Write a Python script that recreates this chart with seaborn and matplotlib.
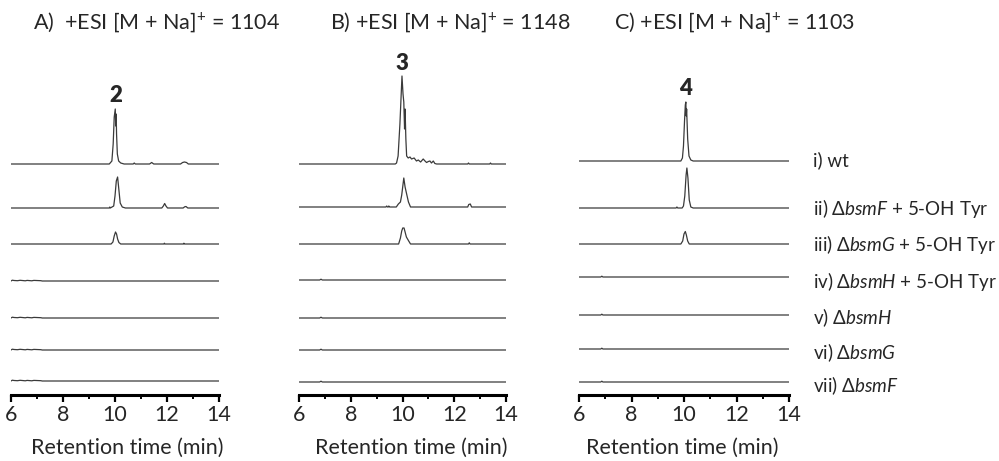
import numpy as np
import pandas as pd
import matplotlib
matplotlib.use("Agg")
import matplotlib.pyplot as plt
from matplotlib.ticker import MultipleLocator
import seaborn as sns

# ---------------- data (retention time in min, signal in arbitrary units) ----------------
titles = ["A)  +ESI [M + Na]$^{+}$ = 1104", "B) +ESI [M + Na]$^{+}$ = 1148", "C) +ESI [M + Na]$^{+}$ = 1103"]
compounds = ["2", "3", "4"]
strains = ["i) wt",
           r"ii) Δ$\it{bsmF}$ + 5-OH Tyr",
           r"iii) Δ$\it{bsmG}$ + 5-OH Tyr",
           r"iv) Δ$\it{bsmH}$ + 5-OH Tyr",
           r"v) Δ$\it{bsmH}$",
           r"vi) Δ$\it{bsmG}$",
           r"vii) Δ$\it{bsmF}$"]
x_ticks = [6, 8, 10, 12, 14]

# Panel A traces (time, signal)
A_i_t = [6.0, 9.78, 9.88, 9.93, 9.97, 10.01, 10.03, 10.045, 10.06, 10.09, 10.14, 10.22, 10.35, 10.70, 10.74, 10.78, 11.33, 11.41, 11.49, 12.52, 12.60, 12.67, 12.75, 12.82, 14.0]
A_i_y = [0, 0, 3, 20, 47, 55, 38, 50, 30, 10, 3, 1, 0, 0, 1, 0, 0, 1.5, 0, 0, 1.5, 2, 1.5, 0, 0]
A_ii_t = [6.0, 9.78, 9.80, 9.82, 9.95, 10.00, 10.05, 10.10, 10.15, 10.20, 10.28, 10.40, 11.80, 11.86, 11.91, 11.96, 12.02, 12.62, 12.68, 12.73, 12.80, 14.0]
A_ii_y = [0, 0, 1, 0, 2, 12, 27, 31, 18, 5, 1, 0, 0, 2, 4.5, 2, 0, 0, 1.2, 1.5, 0, 0]
A_iii_t = [6.0, 9.85, 9.92, 9.97, 10.02, 10.06, 10.10, 10.15, 10.22, 11.88, 11.90, 11.92, 12.63, 12.65, 12.67, 14.0]
A_iii_y = [0, 0, 2, 8, 12, 10, 5, 1.5, 0, 0, 0.8, 0, 0, 0.8, 0, 0]
A_low_t = [6.0, 6.05, 6.12, 6.25, 6.35, 6.55, 6.62, 6.80, 6.88, 7.15, 7.2, 14.0]
A_low_y = [0, 0.8, 0.5, 0.3, 0.7, 0.2, 0.6, 0.2, 0.6, 0.3, 0, 0]

# Panel B traces
B_i_t = [6.0, 9.72, 9.77, 9.83, 9.90, 9.98, 10.02, 10.05, 10.08, 10.10, 10.13, 10.16, 10.22, 10.29, 10.35, 10.45, 10.54, 10.61, 10.70, 10.80, 10.87, 10.93, 11.00, 11.06, 11.12, 11.19, 11.25, 11.32, 12.52, 12.55, 12.58, 13.37, 13.40, 13.43, 14.0]
B_i_y = [0, 0, 1, 8, 40, 88, 70, 62, 35, 55, 25, 8, 6, 7, 5, 6, 3, 4, 2, 5, 3, 1.5, 2.5, 3, 1, 3, 0.5, 0, 0, 1, 0, 0, 1, 0, 0]
B_ii_t = [6.0, 9.36, 9.39, 9.42, 9.45, 9.47, 9.50, 9.76, 9.84, 9.92, 9.97, 10.05, 10.10, 10.16, 10.23, 10.31, 12.52, 12.56, 12.62, 12.67, 14.0]
B_ii_y = [0, 0, 1, 0, 0, 1, 0, 0, 3, 5, 12, 29, 20, 13, 5, 0, 0, 2.5, 3, 0, 0]
B_iii_t = [6.0, 9.85, 9.92, 9.97, 10.01, 10.06, 10.10, 10.15, 10.24, 10.31, 12.55, 12.58, 12.61, 14.0]
B_iii_y = [0, 0, 6, 13, 16, 16, 12, 7, 3, 0, 0, 1.2, 0, 0]
B_low_t = [6.0, 6.80, 6.85, 6.90, 14.0]
B_low_y = [0, 0, 0.8, 0, 0]

# Panel C traces
C_i_t = [6.0, 9.88, 9.94, 9.98, 10.02, 10.05, 10.07, 10.085, 10.10, 10.14, 10.19, 10.26, 10.35, 14.0]
C_i_y = [0, 0, 3, 15, 40, 56, 59, 45, 52, 22, 5, 1, 0, 0]
C_ii_t = [6.0, 9.70, 9.73, 9.76, 9.93, 9.98, 10.03, 10.08, 10.11, 10.15, 10.20, 10.26, 10.35, 14.0]
C_ii_y = [0, 0, 1, 0, 0, 2, 12, 33, 40, 30, 8, 1, 0, 0]
C_iii_t = [6.0, 9.88, 9.95, 10.00, 10.05, 10.09, 10.14, 10.20, 14.0]
C_iii_y = [0, 0, 3, 10, 12.5, 9, 3, 0, 0]
C_low_t = [6.0, 6.83, 6.87, 6.91, 14.0]
C_low_y = [0, 0, 0.8, 0, 0]

panel_traces = [
    [(A_i_t, A_i_y), (A_ii_t, A_ii_y), (A_iii_t, A_iii_y), (A_low_t, A_low_y), (A_low_t, A_low_y), (A_low_t, A_low_y), (A_low_t, A_low_y)],
    [(B_i_t, B_i_y), (B_ii_t, B_ii_y), (B_iii_t, B_iii_y), (B_low_t, B_low_y), (B_low_t, B_low_y), (B_low_t, B_low_y), (B_low_t, B_low_y)],
    [(C_i_t, C_i_y), (C_ii_t, C_ii_y), (C_iii_t, C_iii_y), (C_low_t, C_low_y), (C_low_t, C_low_y), (C_low_t, C_low_y), (C_low_t, C_low_y)],
]
compound_pos = [(10.03, 58), (9.98, 90), (10.07, 62)]

# ---------------- layout ----------------
W, H = 999, 461
sns.set_theme(style="white")
plt.rcParams["font.family"] = ["Lato", "DejaVu Sans"]
plt.rcParams["mathtext.fontset"] = "custom"
plt.rcParams["mathtext.rm"] = "Lato"
plt.rcParams["mathtext.it"] = "Lato:italic"
plt.rcParams["mathtext.bf"] = "Lato:bold"

fig = plt.figure(figsize=(W / 100, H / 100), dpi=100)

axes_px = [(11, 219), (299, 506), (579, 789)]
axis_y_px = 395
top_px = 60
offsets = [
    [231, 187, 151, 114, 77, 45, 14],
    [231, 188, 151, 115, 77, 45, 13],
    [234, 187, 151, 118, 80, 46, 13],
]
title_x = [33, 330, 614]
xlabel_cx = [127, 411, 682]
xlabel_cy = 448

line_color = "#3a3a3a"
for p, (x0, x1) in enumerate(axes_px):
    ax = fig.add_axes([x0 / W, (H - axis_y_px) / H, (x1 - x0) / W, (axis_y_px - top_px) / H])
    ax.set_xlim(6, 14)
    ax.set_ylim(0, axis_y_px - top_px)
    for k, (tt, yy) in enumerate(panel_traces[p]):
        df = pd.DataFrame({"t": tt, "s": np.asarray(yy, dtype=float) + offsets[p][k]})
        sns.lineplot(data=df, x="t", y="s", ax=ax, color=line_color, linewidth=0.9,
                     estimator=None, sort=False)
    for s in ["top", "left", "right"]:
        ax.spines[s].set_visible(False)
    ax.spines["bottom"].set_linewidth(2.2)
    ax.spines["bottom"].set_color("black")
    ax.set_xticks(x_ticks)
    ax.xaxis.set_minor_locator(MultipleLocator(1))
    ax.tick_params(axis="x", which="major", bottom=True, length=5, width=1.6, direction="out",
                   labelsize=15.5, pad=2, color="black")
    ax.tick_params(axis="x", which="minor", bottom=True, length=3, width=1.4, direction="out", color="black")
    ax.set_yticks([])
    ax.set_ylabel("")
    ax.set_xlabel("Retention time (min)", fontsize=15.5, va="center")
    ax.xaxis.set_label_coords((xlabel_cx[p] - x0) / (x1 - x0),
                              (axis_y_px - xlabel_cy) / (axis_y_px - top_px))
    ax.patch.set_alpha(0)
    ct, cy = compound_pos[p]
    ax.text(ct, offsets[p][0] + cy, compounds[p], ha="center", va="bottom",
            fontsize=16, fontweight="heavy")
    fig.text(title_x[p] / W, 1 - 22 / H, titles[p], ha="left", va="center", fontsize=15.5)

label_y = [160, 208, 244, 281, 318, 353, 386]
for lab, ly in zip(strains, label_y):
    fig.text(813 / W, 1 - ly / H, lab, ha="left", va="center", fontsize=13.5)

fig.savefig("out.png", dpi=100, facecolor="white")
